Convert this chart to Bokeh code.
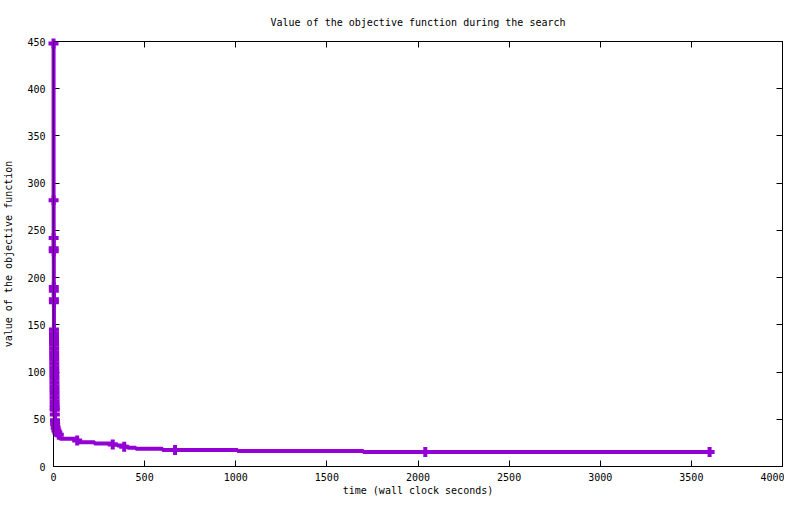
from bokeh.plotting import figure
from bokeh.models import Range1d, LinearAxis, FixedTicker, Span
from bokeh.embed import file_html
from bokeh.resources import INLINE

title_text = "Value of the objective function during the search"
x_label = "time (wall clock seconds)"
y_label = "value of the objective function"
x_ticks = [0, 500, 1000, 1500, 2000, 2500, 3000, 3500, 4000]
y_ticks = [0, 50, 100, 150, 200, 250, 300, 350, 400, 450]

# first seconds of the search: every point is marked
burst_time = [0.0, 0.4, 0.8, 1.1, 1.3, 1.6, 1.8, 2.0, 2.2,
              2.4, 2.6, 2.8, 3.0, 3.2, 3.4, 3.6, 3.8, 4.0, 4.2, 4.4, 4.6,
              4.8, 5.0, 5.2, 5.4, 5.6, 5.8, 6.0, 6.2, 6.4, 6.6, 6.8,
              7.2, 8.0, 9.0, 12, 16, 21]
burst_value = [448, 282, 242, 231, 228, 190, 186, 177, 174,
               145, 141, 137, 133, 129, 125, 121, 117, 113, 109, 105, 101,
               97, 93, 89, 85, 81, 77, 73, 69, 65, 62, 60,
               55, 49, 45, 41, 38, 36]

# rest of the search: the trace of the objective
tail_line_time = [29, 35, 120, 140, 225, 320, 350, 385, 407, 452, 598, 1010, 1700, 3600]
tail_line_value = [33.7, 29.3, 27.5, 25.7, 24.4, 23.3, 22.2, 20.9, 19.9, 18.9, 17.4, 16.4, 15.4, 15.4]

# rest of the search: marked points
tail_mark_time = [29, 130, 325, 388, 667, 2040, 3600]
tail_mark_value = [33.7, 27.5, 23.3, 20.9, 17.4, 15.4, 15.4]

line_time = burst_time + tail_line_time
line_value = burst_value + tail_line_value
mark_time = burst_time + tail_mark_time
mark_value = burst_value + tail_mark_value

FONT = "DejaVu Sans Mono"
PURPLE = "#9400D3"

p = figure(width=784, height=498, output_backend="svg", toolbar_location=None,
           x_range=Range1d(0, 4000), y_range=Range1d(0, 450), title=title_text,
           min_border_left=52, min_border_right=2, min_border_top=41,
           min_border_bottom=32)
p.background_fill_color = "white"
p.border_fill_color = "white"
p.outline_line_color = "black"
p.outline_line_width = 1
p.grid.visible = False

p.title.text_font = FONT
p.title.text_font_size = "10px"
p.title.text_font_style = "normal"
p.title.align = "center"
p.title.text_color = "black"
p.title.standoff = 27

p.add_layout(LinearAxis(), "above")
p.add_layout(LinearAxis(), "right")

for ax in p.xaxis:
    ax.ticker = FixedTicker(ticks=x_ticks)
for ax in p.yaxis:
    ax.ticker = FixedTicker(ticks=y_ticks)

for ax in list(p.xaxis) + list(p.yaxis):
    ax.major_tick_in = 6
    ax.major_tick_out = 0
    ax.minor_tick_in = 0
    ax.minor_tick_out = 0
    ax.axis_line_color = "black"
    ax.major_tick_line_color = "black"
    ax.major_label_text_font = FONT
    ax.major_label_text_font_size = "10px"
    ax.major_label_text_color = "black"
    ax.axis_label_text_font = FONT
    ax.axis_label_text_font_size = "10px"
    ax.axis_label_text_font_style = "normal"
    ax.axis_label_text_color = "black"

top_ax = p.above[-1]
top_ax.major_label_overrides = {t: "" for t in x_ticks}
right_ax = p.right[-1]
right_ax.major_label_overrides = {t: "" for t in y_ticks}
for ax in (top_ax, right_ax):
    ax.major_label_text_font_size = "0px"
    ax.major_label_standoff = 0

bx = p.below[0]
bx.axis_label = x_label
bx.major_label_standoff = 6
bx.axis_label_standoff = 1
ly = p.left[0]
ly.axis_label = y_label
ly.major_label_standoff = 8
ly.axis_label_standoff = 10

p.step(line_time, line_value, mode="after", line_color=PURPLE, line_width=4,
       level="overlay")
p.scatter(mark_time, mark_value, marker="cross", size=10, line_width=4,
          line_color=PURPLE, level="overlay")

p.add_layout(Span(location=0, dimension="height", line_color="black",
                  line_width=1, level="overlay"))
p.add_layout(Span(location=450, dimension="width", line_color="black",
                  line_width=1, level="overlay"))

open("out.html", "w").write(file_html(p, INLINE))
